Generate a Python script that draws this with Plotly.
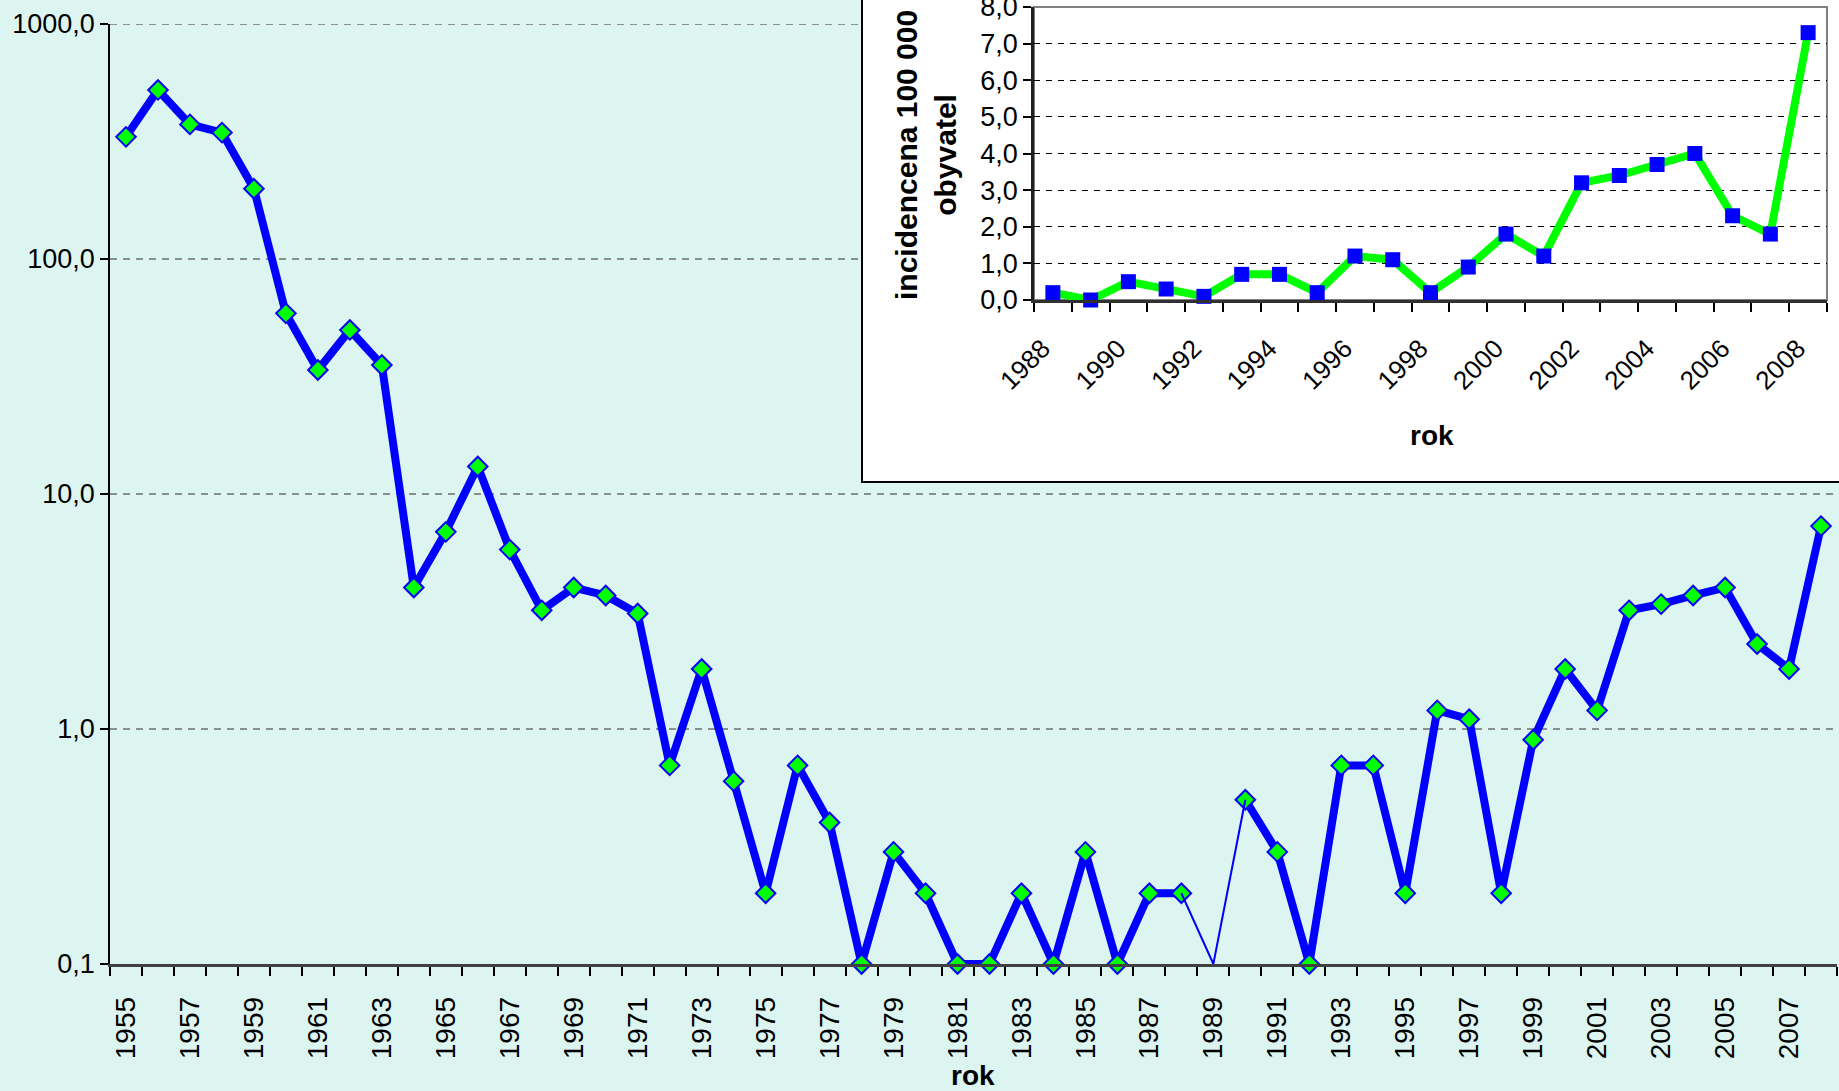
import plotly.graph_objects as go

# ---------------- data ----------------
years = list(range(1955, 2009))
incidence = [331, 524, 374, 345, 199, 58.7, 33.7, 49.9, 35.4, 4.0,
             6.9, 13.1, 5.8, 3.2, 4.0, 3.7, 3.1, 0.7, 1.8, 0.6,
             0.2, 0.7, 0.4, 0.1, 0.3, 0.2, 0.1, 0.1, 0.2, 0.1,
             0.3, 0.1, 0.2, 0.2, 0.0, 0.5, 0.3, 0.1, 0.7, 0.7,
             0.2, 1.2, 1.1, 0.2, 0.9, 1.8, 1.2, 3.2, 3.4, 3.7,
             4.0, 2.3, 1.8, 7.3]
main_ytick_vals = [0.1, 1, 10, 100, 1000]
main_xtick_years = years[::2]

inset_years = list(range(1988, 2009))
inset_values = [0.2, 0.0, 0.5, 0.3, 0.1, 0.7, 0.7, 0.2, 1.2, 1.1, 0.2,
                0.9, 1.8, 1.2, 3.2, 3.4, 3.7, 4.0, 2.3, 1.8, 7.3]
inset_xtick_years = inset_years[::2]

x_title = "rok"
inset_y_title = "incidencena 100 000<br>obyvatel"

# ---------------- layout helpers ----------------
W, H = 1839, 1091
def fx(px):
    return px / W
def fy(px):
    return 1 - px / H

BG = "#DDF5F0"
FONT = "Liberation Sans, Arial, sans-serif"
NBSP = "\u00a0"

axis_min = main_ytick_vals[0]

fig = go.Figure()

# main series (zeros cannot be shown on a log axis -> gap)
main_y = [v if v > 0 else None for v in incidence]
fig.add_trace(go.Scatter(
    x=years, y=main_y, mode="lines+markers",
    line=dict(color="#0000FF", width=8),
    marker=dict(symbol="diamond", size=15, color="#00FF00",
                line=dict(color="#0000FF", width=2)),
    connectgaps=False, cliponaxis=False, showlegend=False,
    xaxis="x", yaxis="y"))

# thin segments to zero values (drawn down to the axis minimum)
for i, v in enumerate(incidence):
    if v <= 0 and 0 < i < len(incidence) - 1:
        fig.add_trace(go.Scatter(
            x=[years[i - 1], years[i], years[i + 1]],
            y=[incidence[i - 1], axis_min, incidence[i + 1]],
            mode="lines", line=dict(color="#0000FF", width=2),
            cliponaxis=False, showlegend=False, xaxis="x", yaxis="y"))

# inset series
fig.add_trace(go.Scatter(
    x=inset_years, y=inset_values, mode="lines+markers",
    line=dict(color="#00FF00", width=8),
    marker=dict(symbol="square", size=15, color="#0000FF",
                line=dict(color="#0000FF", width=0)),
    cliponaxis=False, showlegend=False, xaxis="x2", yaxis="y2"))

shapes = []
# main gridlines (drawn as lower-layer shapes so the inset box covers them)
for v in main_ytick_vals[1:]:
    shapes.append(dict(type="line", xref="paper", yref="y",
                       x0=fx(110), x1=fx(1837), y0=v, y1=v,
                       line=dict(color="#6E6E6E", width=1.6, dash="7px,6px"),
                       layer="below"))
# inset white box
shapes.append(dict(type="rect", xref="paper", yref="paper",
                   x0=fx(862), x1=1.02, y0=fy(482), y1=1.02,
                   fillcolor="white", line=dict(color="black", width=2),
                   layer="below"))
# inset plot-area border
shapes.append(dict(type="rect", xref="x2 domain", yref="y2 domain",
                   x0=0, x1=1, y0=0, y1=1,
                   line=dict(color="#808080", width=2), layer="below"))

fig.update_layout(
    width=W, height=H,
    margin=dict(l=0, r=0, t=0, b=0, autoexpand=False),
    paper_bgcolor=BG, plot_bgcolor="rgba(0,0,0,0)",
    separators=", ",
    font=dict(family=FONT, color="black"),
    shapes=shapes,
    xaxis=dict(
        domain=[fx(110), fx(1837)], range=[1954.5, 2008.5],
        tickmode="array", tickvals=main_xtick_years,
        ticktext=[str(y) for y in main_xtick_years],
        tickangle=-90, ticks="", ticklabelstandoff=19,
        tickfont=dict(size=28),
        minor=dict(tickmode="array",
                   tickvals=[y - 0.5 for y in years] + [years[-1] + 0.5],
                   ticks="outside", ticklen=9, tickwidth=1.5, tickcolor="black"),
        showline=True, linecolor="#404040", linewidth=2.5,
        showgrid=False, zeroline=False, anchor="y", automargin=False,
        ticklabeloverflow="allow"),
    yaxis=dict(
        domain=[fy(964), fy(24)], type="log", range=[-1, 3],
        tickmode="array", tickvals=main_ytick_vals, tickformat=".1f",
        ticks="outside", ticklen=8, tickwidth=1.5, tickcolor="black",
        tickfont=dict(size=27),
        showline=True, linecolor="black", linewidth=1.5,
        showgrid=False, zeroline=False, anchor="x", automargin=False,
        ticklabeloverflow="allow"),
    xaxis2=dict(
        domain=[fx(1034), fx(1827)], range=[1987.5, 2008.5],
        tickmode="array", tickvals=inset_xtick_years,
        ticktext=[str(y) + NBSP * 2 for y in inset_xtick_years],
        tickangle=-45, ticks="", ticklabelstandoff=10,
        tickfont=dict(size=26),
        minor=dict(tickmode="array",
                   tickvals=[y - 0.5 for y in inset_years] + [inset_years[-1] + 0.5],
                   ticks="outside", ticklen=9, tickwidth=1.5, tickcolor="black"),
        showline=True, linecolor="#303030", linewidth=2.5,
        showgrid=False, zeroline=False, anchor="y2", automargin=False,
        ticklabeloverflow="allow"),
    yaxis2=dict(
        domain=[fy(300), fy(7)], range=[0, 8], dtick=1, tick0=0,
        tickformat=".1f",
        ticks="outside", ticklen=8, tickwidth=1.5, tickcolor="black",
        tickfont=dict(size=27),
        showline=True, linecolor="#202020", linewidth=2.5,
        showgrid=True, gridcolor="black", gridwidth=1, griddash="6px,6px",
        zeroline=False, anchor="x2", automargin=False,
        ticklabeloverflow="allow"),
    annotations=[
        dict(text=x_title, xref="paper", yref="paper", x=fx(973), y=fy(1075),
             xanchor="center", yanchor="middle", showarrow=False,
             font=dict(size=28, weight="bold")),
        dict(text=x_title, xref="paper", yref="paper", x=fx(1432), y=fy(435),
             xanchor="center", yanchor="middle", showarrow=False,
             font=dict(size=28, weight="bold")),
        dict(text=inset_y_title, xref="paper", yref="paper", x=fx(926), y=fy(155),
             xanchor="center", yanchor="middle", showarrow=False, textangle=-90,
             align="center", font=dict(size=30, weight="bold")),
    ],
)

fig.write_html("out.html", include_plotlyjs=True, config={"displayModeBar": False},
               post_script="document.body.style.margin='0';document.body.style.overflow='hidden';")
